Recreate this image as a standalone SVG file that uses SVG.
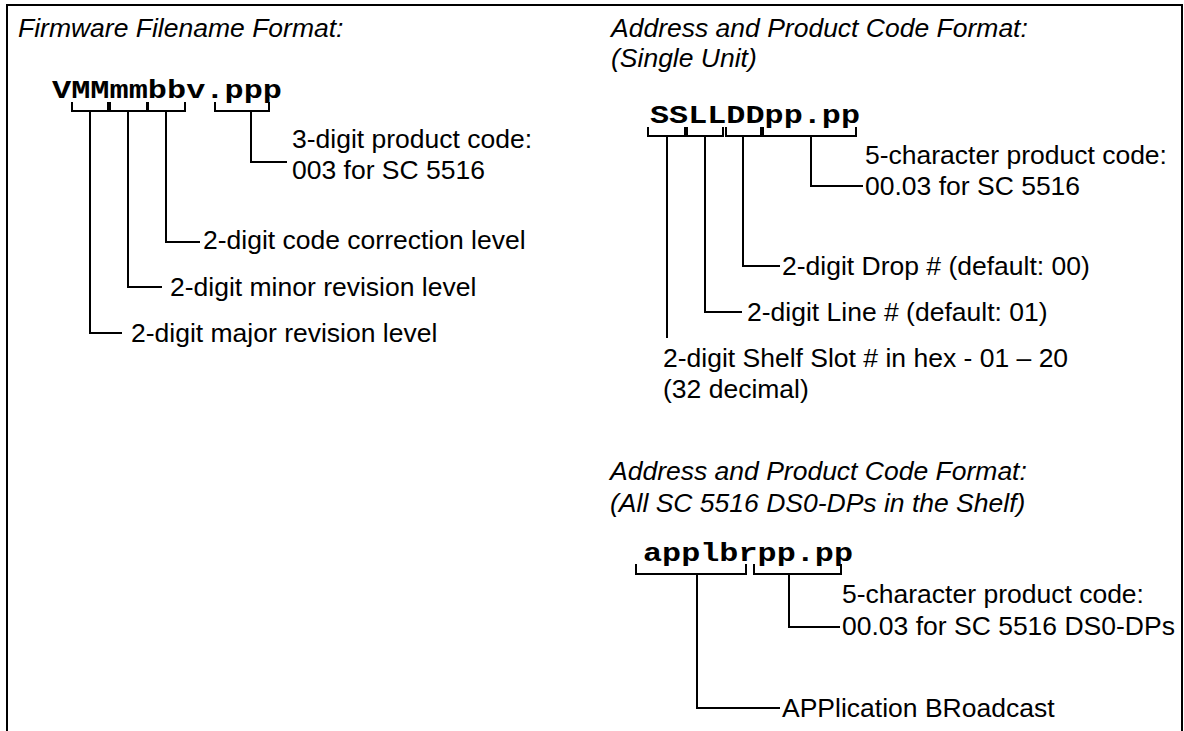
<svg xmlns="http://www.w3.org/2000/svg" width="1184" height="731" viewBox="0 0 1184 731">
<style>
.t{font-family:"Liberation Sans",Arial,sans-serif;font-size:26.5px;fill:#000}
.i{font-style:italic}
.c{font-family:"Liberation Mono","Courier New",monospace;font-weight:bold;font-size:25px;fill:#000}
.ln{fill:none;stroke:#000;stroke-width:2}
</style>
<rect width="1184" height="731" fill="#fff"/>
<path class="ln" d="M7 731V5H1182V731"/>
<g id="left-title"><text class="t i" x="18" y="37">Firmware Filename Format:</text></g>
<g id="left-code"><text class="c" x="52" y="98" textLength="230" lengthAdjust="spacingAndGlyphs">VMMmmbbv.ppp</text></g>
<g id="left-labels">
<text class="t" x="292" y="148">3-digit product code:</text>
<text class="t" x="292" y="179">003 for SC 5516</text>
<text class="t" x="203" y="249">2-digit code correction level</text>
<text class="t" x="170" y="296">2-digit minor revision level</text>
<text class="t" x="131" y="342">2-digit major revision level</text>
</g>
<g id="right-title"><text class="t i" x="611" y="37">Address and Product Code Format:</text><text class="t i" x="611" y="67">(Single Unit)</text></g>
<g id="right-code"><text class="c" x="650" y="123" textLength="210" lengthAdjust="spacingAndGlyphs">SSLLDDpp.pp</text></g>
<g id="right-labels">
<text class="t" x="865" y="164">5-character product code:</text>
<text class="t" x="865" y="195">00.03 for SC 5516</text>
<text class="t" x="782" y="275">2-digit Drop # (default: 00)</text>
<text class="t" x="747" y="321">2-digit Line # (default: 01)</text>
<text class="t" x="663" y="367">2-digit Shelf Slot # in hex - 01 – 20</text>
<text class="t" x="663" y="398">(32 decimal)</text>
</g>
<g id="bottom-title"><text class="t i" x="610" y="480">Address and Product Code Format:</text><text class="t i" x="610" y="512">(All SC 5516 DS0-DPs in the Shelf)</text></g>
<g id="bottom-code"><text class="c" x="643" y="561" textLength="210" lengthAdjust="spacingAndGlyphs">applbrpp.pp</text></g>
<g id="bottom-labels">
<text class="t" x="842" y="603">5-character product code:</text>
<text class="t" x="842" y="635">00.03 for SC 5516 DS0-DPs</text>
<text class="t" x="782" y="717">APPlication BRoadcast</text>
</g>
<g id="connectors" class="ln">
<path class="ln" d="M72 102V111H108V102"/>
<path class="ln" d="M110 102V111H147V102"/>
<path class="ln" d="M148 102V111H185V102"/>
<path class="ln" d="M215 102V111H269V102"/>
<path class="ln" d="M90 111V333H122"/>
<path class="ln" d="M128 111V287H162"/>
<path class="ln" d="M166 111V242H200"/>
<path class="ln" d="M251 111V162H287"/>
<path class="ln" d="M648 127V136H685V127"/>
<path class="ln" d="M687 127V136H723V127"/>
<path class="ln" d="M726 127V136H761V127"/>
<path class="ln" d="M763 127V136H856V127"/>
<path class="ln" d="M667 136V338"/>
<path class="ln" d="M705 136V312H742"/>
<path class="ln" d="M743 136V266H780"/>
<path class="ln" d="M811 136V186H863"/>
<path class="ln" d="M636 564V574H746V564"/>
<path class="ln" d="M754 564V574H841V564"/>
<path class="ln" d="M697 574V708H780"/>
<path class="ln" d="M789 574V627H840"/>
</g>
</svg>
